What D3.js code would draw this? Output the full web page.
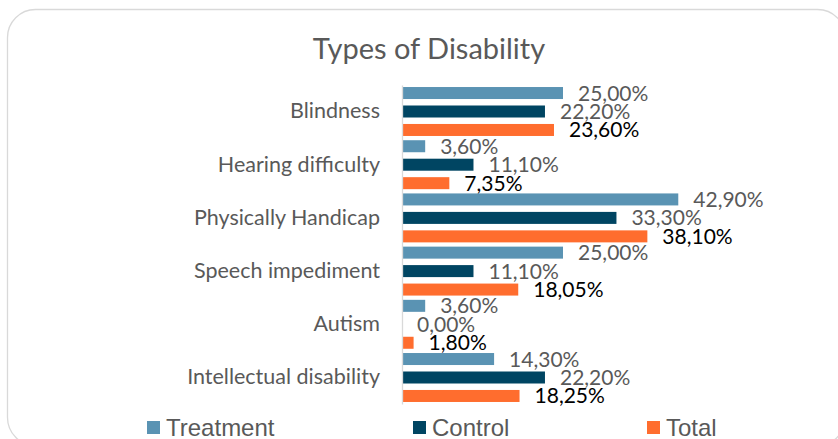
<!DOCTYPE html>
<html>
<head>
<meta charset="utf-8">
<script src="https://cdn.jsdelivr.net/npm/d3@7"></script>
<style>
  body { margin: 0; background: #fff; }
  svg { display: block; }
</style>
</head>
<body>
<svg></svg>
<script>
// data
const categories = ['Blindness', 'Hearing difficulty', 'Physically Handicap', 'Speech impediment', 'Autism', 'Intellectual disability']
const seriesNames = ['Treatment', 'Control', 'Total']
const treatment = [25.00, 3.60, 42.90, 25.00, 3.60, 14.30]
const control = [22.20, 11.10, 33.30, 11.10, 0.00, 22.20]
const total = [23.60, 7.35, 38.10, 18.05, 1.80, 18.25]
const colors = ['#5a93b3', '#004562', '#ff6d2e']
const labelColors = ['#595959', '#595959', '#000000']

const WIDTH = 838, HEIGHT = 439
const svg = d3.select( 'svg' ).attr( 'width', WIDTH ).attr( 'height', HEIGHT )
const FONT = 'Lato, "Open Sans", sans-serif'

// chart area frame
svg.append( 'rect' )
	.attr( 'x', 7.5 ).attr( 'y', 9.5 )
	.attr( 'width', 838 ).attr( 'height', 436 )
	.attr( 'rx', 28 ).attr( 'ry', 28 )
	.attr( 'fill', '#fff' )
	.attr( 'stroke', '#d9d9d9' )
	.attr( 'stroke-width', 1.3 )

svg.append( 'text' )
	.attr( 'x', 429 ).attr( 'y', 59 )
	.attr( 'text-anchor', 'middle' )
	.attr( 'font-family', FONT )
	.attr( 'font-size', 29 )
	.attr( 'fill', '#595959' )
	.text( 'Types of Disability' )

const rows = categories.map( ( c, i ) => ( { cat: c, vals: [treatment[i], control[i], total[i]] } ) )

const x = d3.scaleLinear().domain( [0, 50] ).range( [402, 724] )
const y0 = d3.scaleBand().domain( categories ).range( [84.9, 404.1] ).paddingInner( 0.08 ).paddingOuter( 0.04 )
const y1 = d3.scaleBand().domain( seriesNames ).range( [0, y0.bandwidth()] ).paddingInner( 0.35 )

const groups = svg.append( 'g' ).selectAll( 'g' )
	.data( rows ).join( 'g' )
	.attr( 'transform', d => `translate(0, ${y0( d.cat )})` )

groups.selectAll( 'rect' )
	.data( d => d.vals.map( ( v, k ) => ( { v, k } ) ) )
	.join( 'rect' )
	.attr( 'x', x( 0 ) )
	.attr( 'y', d => y1( seriesNames[d.k] ) )
	.attr( 'width', d => x( d.v ) - x( 0 ) )
	.attr( 'height', y1.bandwidth() )
	.attr( 'fill', d => colors[d.k] )

groups.selectAll( 'text' )
	.data( d => d.vals.map( ( v, k ) => ( { v, k } ) ) )
	.join( 'text' )
	.attr( 'x', d => x( d.v ) + 15 )
	.attr( 'y', d => y1( seriesNames[d.k] ) + y1.bandwidth() / 2 + 7.5 )
	.attr( 'font-family', FONT )
	.attr( 'font-size', 21 )
	.attr( 'fill', d => labelColors[d.k] )
	.text( d => d.v.toFixed( 2 ).replace( '.', ',' ) + '%' )

// category axis
const axis = svg.append( 'g' )
	.attr( 'transform', `translate(${x( 0 )}, 0)` )
	.call( d3.axisLeft( y0 ).tickSize( 0 ).tickPadding( 22 ) )
axis.select( '.domain' ).attr( 'stroke', '#d9d9d9' ).attr( 'stroke-width', 1.3 )
axis.selectAll( 'text' )
	.attr( 'font-family', FONT )
	.attr( 'font-size', 21.5 )
	.attr( 'fill', '#595959' )

// legend
const legendX = [147, 413, 647]
const legend = svg.append( 'g' ).selectAll( 'g' )
	.data( seriesNames ).join( 'g' )
	.attr( 'transform', ( d, i ) => `translate(${legendX[i]}, 0)` )
legend.append( 'rect' )
	.attr( 'x', 0 ).attr( 'y', 421 )
	.attr( 'width', 13 ).attr( 'height', 13 )
	.attr( 'fill', ( d, i ) => colors[i] )
legend.append( 'text' )
	.attr( 'x', 19 ).attr( 'y', 436 )
	.attr( 'font-family', '"Liberation Sans", Arial, sans-serif' )
	.attr( 'font-size', 24 )
	.attr( 'fill', '#595959' )
	.text( d => d )
</script>
</body>
</html>
